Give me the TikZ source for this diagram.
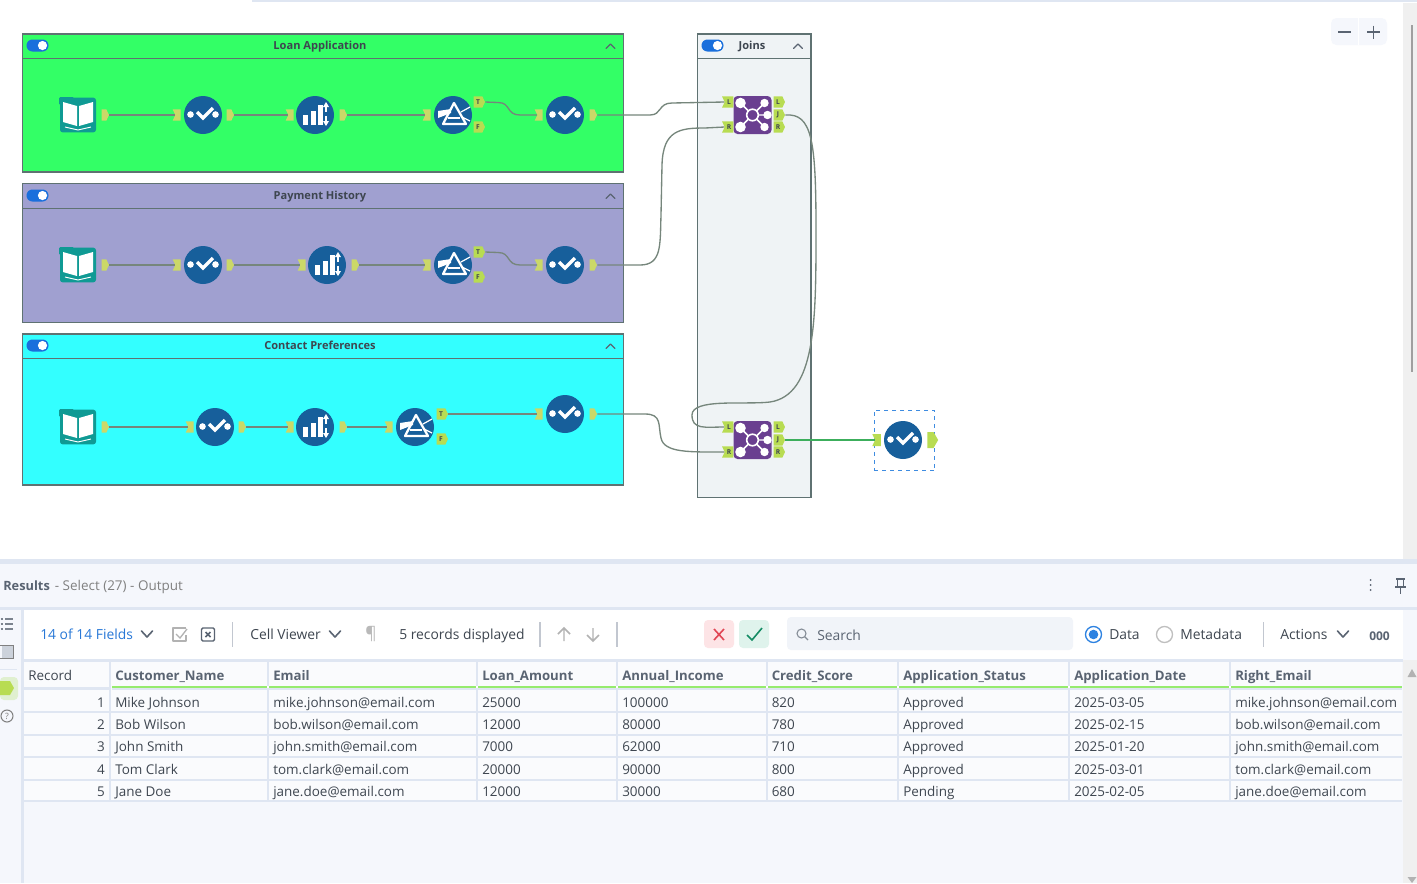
\documentclass[tikz,border=0pt]{standalone}
\usepackage{fontspec}
\setmainfont{Open Sans}
\usetikzlibrary{shapes.symbols}
\definecolor{toolblue}{HTML}{175F9B}
\definecolor{joinpurple}{HTML}{6A3F90}
\definecolor{bookteal}{HTML}{0F9A94}
\definecolor{portlime}{HTML}{B8DC52}
\definecolor{portolive}{HTML}{CBD868}
\definecolor{boxedge}{HTML}{5F7272}
\definecolor{wiregrey}{HTML}{76867C}
\definecolor{panelbg}{HTML}{F5F7FC}
\definecolor{bandblue}{HTML}{DFE6F2}
\definecolor{textgrey}{HTML}{3E4650}
\definecolor{headgrey}{HTML}{5A6472}
\definecolor{togglue}{HTML}{1A6FDC}
\definecolor{wiregreen}{HTML}{3CAE5C}
\definecolor{boxgreen}{RGB}{51,255,102}
\definecolor{boxviolet}{RGB}{160,160,208}
\definecolor{boxcyan}{RGB}{51,255,255}
\definecolor{boxpale}{RGB}{239,243,245}
\definecolor{selblue}{RGB}{62,140,225}
\definecolor{linkblue}{RGB}{40,120,215}
\definecolor{redtile}{RGB}{253,228,230}
\definecolor{greentile}{RGB}{223,243,236}
\definecolor{redmark}{RGB}{225,70,85}
\definecolor{greenmark}{RGB}{20,140,100}
\definecolor{searchbg}{RGB}{241,244,249}
\definecolor{radioblue}{RGB}{45,130,225}
\definecolor{fieldgreen}{RGB}{150,235,110}
\definecolor{scrollbg}{RGB}{240,240,240}
\definecolor{tilegreen}{RGB}{224,240,208}
\tikzset{
  container/.style={draw=boxedge,line width=1.1pt,rectangle,anchor=north west,inner sep=0pt},
  grouptitle/.style={font=\fontsize{8.3}{10}\selectfont\bfseries,text=textgrey,inner sep=0pt,anchor=base},
  selecttool/.style={circle,fill=toolblue,minimum size=28.5pt,inner sep=0pt},
  booktool/.style={rectangle,rounded corners=2pt,fill=bookteal,minimum width=27pt,minimum height=26pt,inner sep=0pt},
  jointool/.style={rectangle,rounded corners=3pt,fill=joinpurple,minimum size=28.5pt,inner sep=0pt},
  outport/.style={signal,signal to=east,signal pointer angle=130,fill=portolive,minimum width=5.5pt,minimum height=8.5pt,inner sep=0pt},
  inport/.style={signal,signal from=west,signal to=nowhere,signal pointer angle=130,fill=portolive,minimum width=6pt,minimum height=8.5pt,inner sep=0pt},
  lblport/.style={fill=portlime,font=\fontsize{5}{5}\selectfont\bfseries,text=textgrey,minimum width=8.5pt,minimum height=8.5pt},
  wire/.style={draw=wiregrey,line width=1pt},
  cell/.style={anchor=base west,inner sep=0pt,font=\fontsize{10.1}{12}\selectfont,text=textgrey},
  headcell/.style={cell,font=\fontsize{9.9}{12}\selectfont\bfseries,text=headgrey},
  tbtext/.style={anchor=base west,inner sep=0pt,font=\fontsize{10.4}{12}\selectfont,text=textgrey},
}
\newcommand{\selecticon}[2]{%
  \fill[white] (#1-12.5,#2-0.5) circle (3.3);
  \fill[white] (#1+12.5,#2-0.5) circle (3.3);
  \draw[white,line width=2.5pt] (#1-6,#2-3)--(#1,#2+3)--(#1+10,#2-7);
}
\newcommand{\sumicon}[2]{%
  \fill[white] (#1-12,#2) rectangle (#1-7,#2+10);
  \fill[white] (#1-4.5,#2-4.5) rectangle (#1+0.5,#2+10);
  \fill[white] (#1+2.5,#2-10) rectangle (#1+7.5,#2+10);
  \draw[white,line width=0.9pt] (#1+11,#2-10)--(#1+11,#2-3) (#1+11,#2+1)--(#1+11,#2+8);
  \fill[white] (#1+11,#2-13)--(#1+8,#2-8)--(#1+14,#2-8)--cycle;
  \fill[white] (#1+11,#2+11)--(#1+8,#2+6)--(#1+14,#2+6)--cycle;
}
\newcommand{\filtericon}[2]{%
  \draw[white,line width=1.7pt,line join=round] (#1+1,#2-12)--(#1-10,#2+9)--(#1+13,#2+9)--cycle;
  \fill[white] (#1-15,#2-4)--(#1-2,#2-6)--(#1-2,#2-2)--(#1-15,#2+3)--cycle;
  \draw[white,line width=0.9pt] (#1+8,#2-3)--(#1+17,#2-8);
  \draw[white,line width=0.9pt] (#1+9,#2+2)--(#1+17,#2+6);
  \draw[white,line width=0.8pt] (#1-5,#2+3)--(#1+7,#2+3);
}
\newcommand{\bookicon}[2]{%
  \fill[bookteal,rounded corners=1pt] (#1-19,#2-18) rectangle (#1-4,#2-10);
  \fill[white] (#1-1,#2-9)--(#1-15,#2-13)--(#1-15,#2+7)--(#1-1,#2+11)--cycle;
  \fill[white] (#1+1,#2-9)--(#1+15,#2-13)--(#1+15,#2+7)--(#1+1,#2+11)--cycle;
  \draw[white,line width=0.7pt] (#1-13,#2+12)--(#1,#2+15)--(#1+13,#2+12);
}
\newcommand{\joinicon}[2]{%
  \draw[white,line width=1.1pt] (#1-12,#2-12)--(#1+12,#2+12) (#1+12,#2-12)--(#1-12,#2+12) (#1,#2)--(#1+15,#2);
  \fill[joinpurple] (#1,#2) circle (6);
  \draw[white,line width=1.2pt] (#1,#2) circle (5.8);
  \fill[white] (#1-12,#2-12) circle (5.3);
  \fill[white] (#1-12,#2+12) circle (5.3);
  \fill[white] (#1+12,#2-12) circle (4.2);
  \fill[white] (#1+12,#2+12) circle (4.2);
  \fill[white] (#1+15,#2) circle (4.2);
}
\newcommand{\toggleicon}[2]{%
  \fill[togglue,rounded corners=4.4pt] (#1-11,#2-6) rectangle (#1+11,#2+6);
  \fill[white] (#1+5,#2) circle (4.6);
}
\newcommand{\chevicon}[3]{%
  \draw[#3,line width=0.9pt,line join=round,line cap=round] (#1-4.5,#2+2.5)--(#1,#2-2)--(#1+4.5,#2+2.5);
}
\newcommand{\chevdown}[3]{%
  \draw[#3,line width=1.2pt,line join=round,line cap=round] (#1-5.5,#2-3)--(#1,#2+3)--(#1+5.5,#2-3);
}
\begin{document}
\begin{tikzpicture}[x=0.75pt,y=-0.75pt]
\useasboundingbox (0,0) rectangle (1417,883);
\fill[white] (0,0) rectangle (1417,883);
% canvas chrome
\draw[bandblue,line width=1pt] (253,1)--(1417,1);
\draw[bandblue,line width=0.8pt] (253,0)--(253,2);
\fill[scrollbg] (1403,3) rectangle (1417,559);
\fill[gray!75] (1411.2,25) rectangle (1413,372);
\fill[panelbg,rounded corners=4pt] (1331,18) rectangle (1387,45);
\draw[white,line width=0.6pt] (1358.5,18)--(1358.5,45);
\draw[headgrey,line width=1.2pt] (1338,32)--(1351,32) (1367,32)--(1380,32) (1373.5,25.5)--(1373.5,38.5);
% containers
\node[container,fill=boxgreen,minimum width=450.7pt,minimum height=103.5pt] (boxA) at (21.7,33.2) {};
\node[container,fill=boxviolet,minimum width=450.7pt,minimum height=104.3pt] (boxB) at (21.7,182.7) {};
\node[container,fill=boxcyan,minimum width=450.7pt,minimum height=113.4pt] (boxC) at (21.7,333.2) {};
\node[container,fill=boxpale,minimum width=85.2pt,minimum height=347.5pt] (boxJ) at (696.7,33.2) {};
\draw[boxedge,line width=1.1pt] (22.5,58.5)--(623.5,58.5) (22.5,208.5)--(623.5,208.5) (22.5,358.5)--(623.5,358.5) (697.5,58.5)--(811,58.5);
\toggleicon{37.5}{45.5}\toggleicon{37.5}{195.5}\toggleicon{37.5}{345.5}\toggleicon{712.5}{45.5}
\chevicon{610.5}{46}{headgrey}\chevicon{610.5}{196}{headgrey}\chevicon{610.5}{346}{headgrey}\chevicon{798}{46}{headgrey}
\node[grouptitle] (titleA) at (320,49.5) {Loan Application};
\node[grouptitle] (titleB) at (320,199.5) {Payment History};
\node[grouptitle] (titleC) at (320,349.5) {Contact Preferences};
\node[grouptitle] (titleJ) at (752,49.5) {Joins};
% ---- tools row A
\node[booktool] (bA) at (78,115) {}; \bookicon{78}{115}
\node[selecttool] (sA) at (203,115) {}; \selecticon{203}{115}
\node[selecttool] (uA) at (315,115) {}; \sumicon{315}{115}
\node[selecttool] (fA) at (453,115) {}; \filtericon{453}{115}
\node[selecttool] (tA) at (565,115) {}; \selecticon{565}{115}
% row B
\node[booktool] (bB) at (78,265) {}; \bookicon{78}{265}
\node[selecttool] (sB) at (203,265) {}; \selecticon{203}{265}
\node[selecttool] (uB) at (327,265) {}; \sumicon{327}{265}
\node[selecttool] (fB) at (453,265) {}; \filtericon{453}{265}
\node[selecttool] (tB) at (565,265) {}; \selecticon{565}{265}
% row C
\node[booktool] (bC) at (78,427) {}; \bookicon{78}{427}
\node[selecttool] (sC) at (215,427) {}; \selecticon{215}{427}
\node[selecttool] (uC) at (315,427) {}; \sumicon{315}{427}
\node[selecttool] (fC) at (415,427) {}; \filtericon{415}{427}
\node[selecttool] (tC) at (565,414) {}; \selecticon{565}{414}
% joins and final
\node[jointool] (j1) at (752.5,115) {}; \joinicon{752.5}{115}
\node[jointool] (j2) at (752.5,440) {}; \joinicon{752.5}{440}
\node[selecttool] (final) at (903,440) {}; \selecticon{903}{440}
\node[draw=selblue,dashed,line width=0.8pt,minimum width=45.5pt,minimum height=45.5pt,inner sep=0pt] (finalbox) at (904.5,440.5) {};
% ports
\foreach \n/\x/\y in {bAo/104/115,sAo/229/115,uAo/342/115,tAo/592/115,bBo/104/265,sBo/229/265,uBo/354/265,tBo/592/265,bCo/104/427,sCo/241/427,uCo/342/427,tCo/592/414}
  \node[outport] (\n) at (\x,\y) {};
\foreach \n/\x/\y in {sAi/178/115,uAi/291/115,fAi/428/115,tAi/540/115,sBi/178/265,uBi/303/265,fBi/428/265,tBi/540/265,sCi/191/427,uCi/291/427,fCi/390/427,tCi/540/414}
  \node[inport] (\n) at (\x,\y) {};
\foreach \n/\x/\y/\t in {fAt/478/102/T,fAf/478/127/F,fBt/478/252/T,fBf/478/277/F,fCt/441/414/T,fCf/441/439/F,j1Lo/778/102/L,j1Jo/778/115/J,j1Ro/778/127/R,j2Lo/778/427/L,j2Jo/778/440/J,j2Ro/778/452/R}
  \node[outport,lblport] (\n) at (\x,\y) {\t};
\foreach \n/\x/\y/\t in {j1Li/729/102/L,j1Ri/729/127/R,j2Li/729/427/L,j2Ri/729/452/R}
  \node[inport,lblport] (\n) at (\x,\y) {\t};
\node[inport,fill=portlime,minimum width=6.5pt,minimum height=9pt] (finali) at (878,440) {};
\node[signal,signal to=east,signal pointer angle=120,fill=portlime,minimum width=8pt,minimum height=12pt,inner sep=0pt] (finalo) at (930.5,440) {};
% wires
\foreach \a/\b in {bAo/sAi,sAo/uAi,uAo/fAi,bBo/sBi,sBo/uBi,uBo/fBi,bCo/sCi,sCo/uCi,uCo/fCi,fCt/tCi}
  \draw[wire] (\a.east)--(\b.west);
\draw[wire] (fAt.east)--(498,102.5) .. controls (511,102.5) and (506,115) .. (520,115)--(tAi.west);
\draw[wire] (fBt.east)--(498,252.5) .. controls (511,252.5) and (506,265) .. (520,265)--(tBi.west);
\draw[wire] (tAo.east)--(650,115) .. controls (662,115) and (658,103) .. (672,103)--(j1Li.west);
\draw[wire] (tBo.east)--(640,265) .. controls (662,265) and (660,245) .. (661,215)--(662,165) .. controls (663,130) and (680,128) .. (705,128)--(j1Ri.west);
\draw[wire] (tCo.east)--(645,414) .. controls (662,414) and (658,425) .. (661,438) .. controls (664,453) and (690,452) .. (j2Ri.west);
\draw[wire] (j1Jo.east) .. controls (812,113) and (816,140) .. (816,230) .. controls (816,320) and (816,395) .. (770,402) .. controls (745,405) and (692,398) .. (692,415) .. controls (692,430) and (705,427) .. (j2Li.west);
\draw[wiregreen,line width=1.3pt] (j2Jo.east)--(finali.west);
% ------------- results panel
\fill[panelbg] (0,559) rectangle (1417,883);
\fill[bandblue] (0,559) rectangle (1417,564);
\fill[bandblue] (0,607) rectangle (1417,610);
\fill[bandblue] (21,610) rectangle (23.5,883);
\fill[white] (23.5,610) rectangle (1403,659);
\fill[scrollbg] (1403,660) rectangle (1417,883);
\node[anchor=base west,inner sep=0pt,font=\fontsize{9.6}{12}\selectfont\bfseries,text=headgrey] (restitle) at (3,590) {Results};
\node[anchor=base west,inner sep=0pt,font=\fontsize{10.1}{12}\selectfont,text=gray] (ressub) at (restitle.base east) {\,\,- Select (27) - Output};
\fill[headgrey] (1370.5,580) circle (1) (1370.5,585) circle (1) (1370.5,590) circle (1);
\draw[headgrey,line width=1pt] (1396,579)--(1405,579) (1397.5,579)--(1397.5,587) (1403.5,579)--(1403.5,587) (1395,587)--(1406,587) (1400.5,587)--(1400.5,594);
% left strip
\draw[headgrey!80,line width=0.9pt] (5,619)--(13,619) (5,624)--(13,624) (5,629)--(13,629) (0.5,619)--(2.5,619) (0.5,624)--(2.5,624) (0.5,629)--(2.5,629);
\fill[bandblue!80!gray] (2,645) rectangle (13,658);
\draw[gray,line width=0.7pt] (0,645)--(13,645)--(13,658)--(0,658);
\draw[bandblue,line width=0.6pt] (0,669)--(17,669);
\fill[tilegreen,rounded corners=3pt] (0,677) rectangle (18,700);
\fill[portlime] (0,681)--(10,681)--(14,688)--(10,695)--(0,695)--cycle;
\draw[gray,line width=0.8pt] (7,716) circle (6);
\node[font=\fontsize{6.5}{7}\selectfont,text=gray,inner sep=0pt] (helpq) at (7,716) {?};
% toolbar
\node[tbtext,text=linkblue] (fields) at (40,639) {14 of 14 Fields};
\chevdown{147}{634}{headgrey}
\draw[gray!60,line width=1pt,line join=round] (186,628)--(173,628)--(173,641)--(186,641)--(186,635);
\draw[gray!60,line width=1pt] (176,634)--(180,638)--(187,629);
\draw[headgrey,line width=1.1pt,rounded corners=1pt] (201.5,628)--(214.5,628)--(214.5,641)--(201.5,641)--cycle;
\draw[headgrey,line width=1.1pt] (205.5,632)--(210.5,637) (210.5,632)--(205.5,637);
\draw[bandblue!70!gray,line width=0.8pt] (232.5,622)--(232.5,647) (540,622)--(540,647) (617,622)--(617,647) (1263.5,622)--(1263.5,647);
\node[tbtext] (cellv) at (250,639) {Cell Viewer};
\chevdown{335}{634}{headgrey}
\node[font=\fontsize{13}{14}\selectfont,text=gray!55,inner sep=0pt] (pilcrow) at (371,634) {¶};
\node[tbtext] (recs) at (399,639) {5 records displayed};
\draw[gray!60,line width=1.1pt] (564,641)--(564,628) (558,634)--(564,628)--(570,634);
\draw[gray!60,line width=1.1pt] (593,628)--(593,641) (587,635)--(593,641)--(599,635);
\fill[redtile,rounded corners=3pt] (704,620) rectangle (734,648);
\fill[greentile,rounded corners=3pt] (739,620) rectangle (769,648);
\draw[redmark,line width=1.2pt] (714,629)--(724,640) (724,629)--(714,640);
\draw[greenmark,line width=1.2pt] (747,635)--(752,640)--(762,628);
\fill[searchbg,rounded corners=3pt] (787,617) rectangle (1073,650);
\draw[headgrey!75,line width=0.8pt] (801.5,633.5) circle (4.5) (805,637)--(808,640);
\node[tbtext,text=headgrey] (searchl) at (817,640) {Search};
\draw[radioblue,line width=1pt] (1093.5,634.5) circle (8);
\fill[radioblue] (1093.5,634.5) circle (4.8);
\node[tbtext] (datal) at (1109,639) {Data};
\draw[gray!50,line width=1pt] (1164.5,634.5) circle (8);
\node[tbtext] (metal) at (1180,639) {Metadata};
\node[tbtext] (act) at (1280,639) {Actions};
\chevdown{1343}{634}{headgrey}
\node[tbtext,font=\fontsize{9}{12}\selectfont\bfseries,text=headgrey] (ooo) at (1369,640) {000};
% table
\fill[white!50!panelbg] (24,662) rectangle (1402,801);
\fill[bandblue] (23,659) rectangle (1403,662);
\fill[bandblue] (24,686.5) rectangle (110,690);
\foreach \y in {712,734.5,757,779.5,801}
  \fill[bandblue] (24,\y-1) rectangle (1402,\y+1);
\foreach \x in {110,268,477,617,767,898,1069,1230}
  \fill[bandblue] (\x-1,662) rectangle (\x+1,801);
\fill[fieldgreen] (112,685.5) rectangle (1402,688);
\fill[bandblue] (112,688) rectangle (1402,690);
\foreach \x in {268,477,617,767,898,1069,1230}
  \fill[white] (\x-0.7,685.5) rectangle (\x+0.7,688);
\node[cell] (h0) at (28,680) {Record};
\foreach \n/\x/\t in {h1/115/Customer\_Name,h2/273/Email,h3/482/Loan\_Amount,h4/622/Annual\_Income,h5/771.5/Credit\_Score,h6/903/Application\_Status,h7/1074/Application\_Date,h8/1235/Right\_Email}
  \node[headcell] (\n) at (\x,680) {\t};
\foreach \r/\y/\vname/\vmail/\vloan/\vinc/\vcred/\vstat/\vdate in {
  1/707/Mike Johnson/mike.johnson@email.com/25000/100000/820/Approved/2025-03-05,
  2/729/Bob Wilson/bob.wilson@email.com/12000/80000/780/Approved/2025-02-15,
  3/751.5/John Smith/john.smith@email.com/7000/62000/710/Approved/2025-01-20,
  4/774/Tom Clark/tom.clark@email.com/20000/90000/800/Approved/2025-03-01,
  5/796/Jane Doe/jane.doe@email.com/12000/30000/680/Pending/2025-02-05}{
  \node[cell,anchor=base east] (r\r c0) at (105,\y) {\r};
  \node[cell] (r\r c1) at (115,\y) {\vname};
  \node[cell] (r\r c2) at (273,\y) {\vmail};
  \node[cell] (r\r c3) at (482,\y) {\vloan};
  \node[cell] (r\r c4) at (622,\y) {\vinc};
  \node[cell] (r\r c5) at (771.5,\y) {\vcred};
  \node[cell] (r\r c6) at (903,\y) {\vstat};
  \node[cell] (r\r c7) at (1074,\y) {\vdate};
  \node[cell] (r\r c8) at (1235,\y) {\vmail};
}
% table scrollbar
\fill[gray!60] (1412,669)--(1407.5,677)--(1416.5,677)--cycle;
\fill[gray!60] (1412,883)--(1407.5,877)--(1416.5,877)--cycle;
\end{tikzpicture}
\end{document}
